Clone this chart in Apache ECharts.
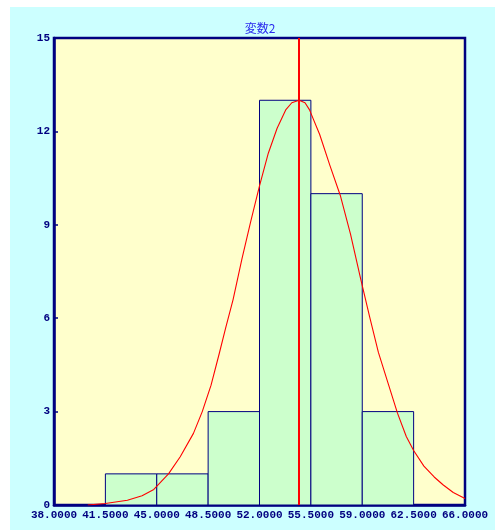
<!DOCTYPE html>
<html>
<head>
<meta charset="utf-8">
<script src="https://cdn.jsdelivr.net/npm/echarts@6/dist/echarts.min.js"></script>
<style>
html,body{margin:0;padding:0;background:#ffffff;}
#bg{position:absolute;left:10px;top:7px;width:485px;height:523px;background:#ccffff;}
#c{position:absolute;left:0;top:0;width:495px;height:530px;}
</style>
</head>
<body>
<div id="bg"></div>
<div id="c"></div>
<script>
// Data
var titleText = '変数2';
var binStarts = [41.5, 45.0, 48.5, 52.0, 55.5, 59.0];
var binEnds   = [45.0, 48.5, 52.0, 55.5, 59.0, 62.5];
var binCounts = [1, 1, 3, 13, 10, 3];
var xTicks = [38.0, 41.5, 45.0, 48.5, 52.0, 55.5, 59.0, 62.5, 66.0];
var yTicks = [0, 3, 6, 9, 12, 15];
var meanX = 54.7;
var curveX = [40.3, 41.5, 43.0, 44.0, 44.8, 45.8, 46.6, 47.5, 48.1, 48.7, 49.25, 49.7, 50.2, 50.8, 51.4, 52.0, 52.6, 53.2, 53.8, 54.2, 54.7, 55.1, 55.4, 56.1, 56.8, 57.5, 58.2, 58.9, 59.5, 60.1, 60.8, 61.4, 62.0, 62.5, 63.2, 63.9, 64.5, 65.2, 66.0];
var curveY = [0, 0.05, 0.15, 0.3, 0.5, 1.0, 1.55, 2.3, 3.0, 3.85, 4.85, 5.7, 6.6, 7.9, 9.1, 10.25, 11.3, 12.1, 12.7, 12.92, 13.0, 12.92, 12.7, 11.9, 10.9, 9.95, 8.7, 7.25, 6.05, 4.9, 3.85, 2.95, 2.2, 1.75, 1.25, 0.9, 0.65, 0.4, 0.21];

var NAVY = '#000080';
var bins = binStarts.map(function (s, i) { return [s, binEnds[i], binCounts[i]]; });
var curve = curveX.map(function (x, i) { return [x, curveY[i]]; });

var chart = echarts.init(document.getElementById('c'), null, {renderer: 'canvas'});
chart.setOption({
  animation: false,
  grid: {
    left: 54, top: 38, right: 30, bottom: 25,
    show: true, backgroundColor: '#ffffcc', borderColor: NAVY, borderWidth: 2.5
  },
  graphic: [{
    type: 'text', x: 260, y: 28, silent: true,
    style: {
      text: titleText, textAlign: 'center', textVerticalAlign: 'middle',
      fill: '#2a2aee', font: '12px "Noto Sans CJK JP"'
    }
  }],
  xAxis: {
    type: 'value', min: 38, max: 66,
    axisLine: {show: true, lineStyle: {color: NAVY, width: 2.5}},
    axisTick: {show: false},
    splitLine: {show: false},
    axisLabel: {
      customValues: xTicks,
      formatter: function (v) { return v.toFixed(4); },
      color: NAVY, fontFamily: 'Liberation Mono', fontWeight: 'bold', fontSize: 11, margin: 5
    }
  },
  yAxis: {
    type: 'value', min: 0, max: 15, interval: 3,
    axisLine: {show: true, lineStyle: {color: NAVY, width: 2.5}},
    axisTick: {show: true, inside: true, length: 4, lineStyle: {color: NAVY, width: 1.5}, customValues: yTicks},
    splitLine: {show: false},
    axisLabel: {
      customValues: yTicks,
      color: NAVY, fontFamily: 'Liberation Mono', fontWeight: 'bold', fontSize: 11, margin: 4
    }
  },
  series: [{
    type: 'custom',
    data: bins,
    renderItem: function (params, api) {
      var p0 = api.coord([api.value(0), api.value(2)]);
      var p1 = api.coord([api.value(1), 0]);
      return {
        type: 'rect',
        shape: {x: p0[0], y: p0[1], width: p1[0] - p0[0], height: p1[1] - p0[1]},
        style: {fill: '#ccffcc', stroke: NAVY, lineWidth: 1}
      };
    },
    z: 2
  }, {
    type: 'line',
    data: curve,
    showSymbol: false,
    symbol: 'none',
    smooth: false,
    lineStyle: {color: '#ff0000', width: 1.1},
    z: 3,
    markLine: {
      silent: true, symbol: 'none', label: {show: false},
      lineStyle: {color: '#ff0000', width: 2, type: 'solid'},
      data: [{xAxis: meanX}]
    }
  }]
});
</script>
</body>
</html>
